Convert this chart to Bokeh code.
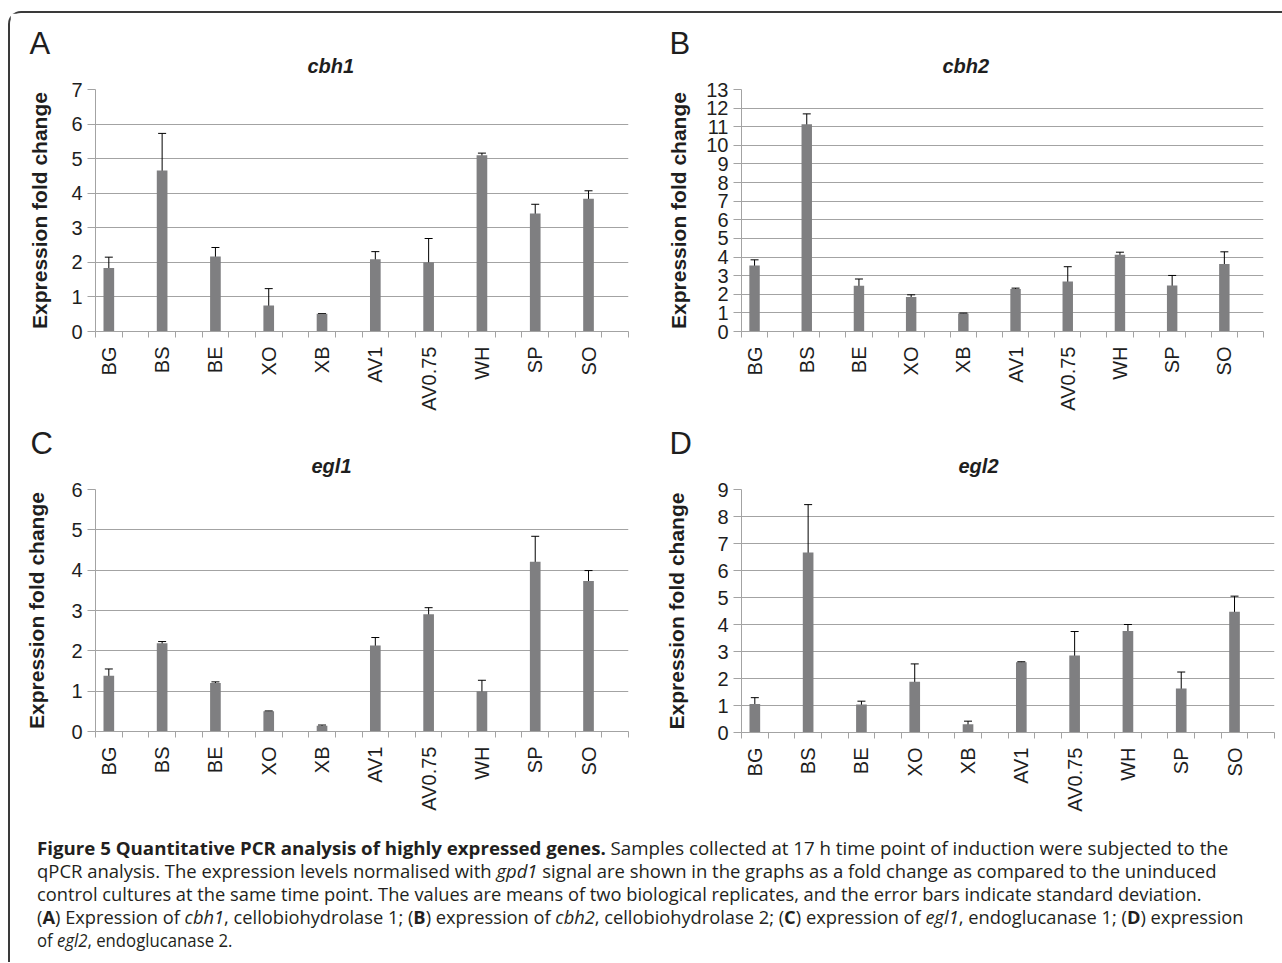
import math
import numpy as np
from bokeh.plotting import figure
from bokeh.models import (ColumnDataSource, Range1d, FixedTicker, SingleIntervalTicker,
                          Whisker, TeeHead, Title, Div)
from bokeh.layouts import column, row
from bokeh.embed import file_html
from bokeh.resources import INLINE

# ---------------- data ----------------
samples = ["BG", "BS", "BE", "XO", "XB", "AV1", "AV0.75", "WH", "SP", "SO"]

cbh1_mean = [1.84, 4.66, 2.17, 0.75, 0.51, 2.09, 2.00, 5.10, 3.41, 3.84]
cbh1_sd = [0.31, 1.07, 0.26, 0.49, 0.01, 0.22, 0.69, 0.06, 0.27, 0.23]

cbh2_mean = [3.55, 11.13, 2.46, 1.85, 0.97, 2.28, 2.69, 4.12, 2.47, 3.62]
cbh2_sd = [0.30, 0.56, 0.36, 0.12, 0.02, 0.05, 0.79, 0.14, 0.54, 0.66]

egl1_mean = [1.38, 2.19, 1.20, 0.50, 0.14, 2.13, 2.91, 1.00, 4.21, 3.73]
egl1_sd = [0.17, 0.04, 0.03, 0.01, 0.02, 0.20, 0.16, 0.27, 0.63, 0.26]

egl2_mean = [1.06, 6.67, 1.04, 1.88, 0.31, 2.60, 2.85, 3.76, 1.63, 4.47]
egl2_sd = [0.23, 1.77, 0.12, 0.66, 0.11, 0.02, 0.89, 0.24, 0.61, 0.58]

y_axis_max = [7, 13, 6, 9]
panel_letters = ["A", "B", "C", "D"]
gene_names = ["cbh1", "cbh2", "egl1", "egl2"]
y_title = "Expression fold change"

caption_lines = [
    "<b>Figure 5 Quantitative PCR analysis of highly expressed genes.</b> Samples collected at 17 h time point of induction were subjected to the",
    "qPCR analysis. The expression levels normalised with <i>gpd1</i> signal are shown in the graphs as a fold change as compared to the uninduced",
    "control cultures at the same time point. The values are means of two biological replicates, and the error bars indicate standard deviation.",
    "(<b>A</b>) Expression of <i>cbh1</i>, cellobiohydrolase 1; (<b>B</b>) expression of <i>cbh2</i>, cellobiohydrolase 2; (<b>C</b>) expression of <i>egl1</i>, endoglucanase 1; (<b>D</b>) expression",
    "of <i>egl2</i>, endoglucanase 2.",
]
caption_stretch = [1.038, 1.025, 1.016, 1.015, 0.93]

# ---------------- style ----------------
FONT = "Liberation Sans"
BAR = "#7f7f81"
GRID = "#a3a3a3"
TXT = "#1e1e1e"


def panel(letter, gene, means, sds, ymax, fw, fh, bl, br, bt, bb,
          ylab_standoff, letter_off, title_off):
    n = len(samples)
    p = figure(frame_width=fw, frame_height=fh,
               min_border_left=bl, min_border_right=br,
               min_border_top=bt, min_border_bottom=bb,
               x_range=Range1d(0, 2 * n), y_range=Range1d(0, ymax),
               output_backend="svg", toolbar_location=None, tools="")
    p.outline_line_color = None
    p.background_fill_color = "white"
    p.border_fill_color = "white"

    pos = [2 * i + 0.5 for i in range(n)]
    m = np.array(means)
    s = np.array(sds)
    src = ColumnDataSource(dict(x=pos, top=m, upper=m + s, lower=m - s))
    p.vbar(x="x", top="top", bottom=0, width=0.4, source=src,
           fill_color=BAR, line_color=None)
    p.add_layout(Whisker(source=src, base="x", upper="upper", lower="lower",
                         dimension="height", line_color="black", line_width=1,
                         upper_head=TeeHead(size=8, line_color="black", line_width=1),
                         lower_head=TeeHead(size=8, line_color="black", line_width=1)))

    # x axis: labels at slot centres, tick marks at slot boundaries
    xa = p.xaxis[0]
    xa.ticker = FixedTicker(ticks=pos, minor_ticks=list(range(0, 2 * n + 1)))
    xa.major_label_overrides = {pv: name for pv, name in zip(pos, samples)}
    xa.major_label_orientation = math.pi / 2
    xa.major_tick_out = 0
    xa.major_tick_in = 0
    xa.minor_tick_out = 6
    xa.minor_tick_in = 0
    xa.minor_tick_line_color = GRID
    xa.axis_line_color = GRID
    xa.major_label_standoff = 9
    xa.major_label_text_font = FONT
    xa.major_label_text_font_size = "20px"
    xa.major_label_text_color = TXT
    p.xgrid.visible = False

    ya = p.yaxis[0]
    ya.ticker = SingleIntervalTicker(interval=1, num_minor_ticks=0)
    ya.major_tick_out = 8
    ya.major_tick_in = 0
    ya.major_tick_line_color = GRID
    ya.axis_line_color = GRID
    ya.major_label_standoff = 5
    ya.major_label_text_font = FONT
    ya.major_label_text_font_size = "20px"
    ya.major_label_text_color = TXT
    ya.axis_label = y_title
    ya.axis_label_text_font = FONT
    ya.axis_label_text_font_size = "21px"
    ya.axis_label_text_font_style = "bold"
    ya.axis_label_text_color = TXT
    ya.axis_label_standoff = ylab_standoff
    p.ygrid.ticker = SingleIntervalTicker(interval=1, num_minor_ticks=0)
    p.ygrid.grid_line_color = GRID

    # gene name (nearest the frame), then panel letter above it
    p.add_layout(Title(text=gene, align="left", offset=title_off, standoff=22,
                       vertical_align="top",
                       text_font=FONT, text_font_size="20px",
                       text_font_style="bold italic", text_color=TXT), "above")
    p.add_layout(Title(text=letter, align="left", offset=letter_off, standoff=-34,
                       vertical_align="bottom",
                       text_font=FONT, text_font_size="31px",
                       text_font_style="normal", text_color=TXT), "above")
    return p


pA = panel(panel_letters[0], gene_names[0], cbh1_mean, cbh1_sd, y_axis_max[0],
           533, 242, 85, 12, 76, 89, 17, -66, 212)
pB = panel(panel_letters[1], gene_names[1], cbh2_mean, cbh2_sd, y_axis_max[1],
           522, 242, 101, 17, 76, 89, 13, -72, 201)
pC = panel(panel_letters[2], gene_names[2], egl1_mean, egl1_sd, y_axis_max[2],
           533, 242, 85, 12, 69, 94, 20, -65, 216)
pD = panel(panel_letters[3], gene_names[3], egl2_mean, egl2_sd, y_axis_max[3],
           533, 243, 101, 6, 68, 94, 26, -72, 217)

line_divs = "".join(
    '<div style="transform:scaleX(%.3f); transform-origin:0 0; white-space:nowrap; height:23px;">%s</div>'
    % (k, t) for t, k in zip(caption_lines, caption_stretch))
cap_html = (
    '<div style="padding:7px 0 0 22px; font-family:\'Open Sans\'; font-size:18px;'
    ' line-height:23px; color:#231f20;">' + line_divs + '</div>'
)
cap = Div(text=cap_html, width=1270, height=127)

layout = column(row(pA, pB), row(pC, pD), cap,
                styles={"border-top": "2px solid #3a3a3a",
                        "border-left": "2px solid #3a3a3a",
                        "border-top-left-radius": "13px",
                        "margin-top": "11px",
                        "margin-left": "8px"})

open("out.html", "w").write(file_html(layout, INLINE))
